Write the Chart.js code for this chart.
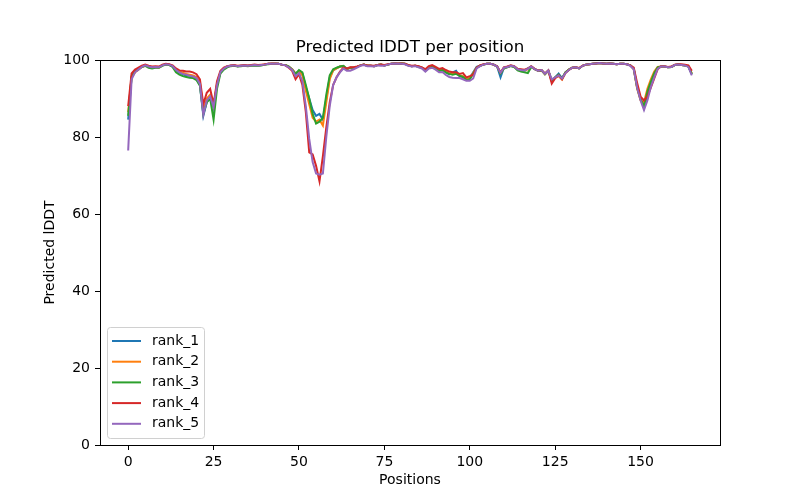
<!DOCTYPE html>
<html>
<head>
<meta charset="utf-8">
<script src="https://cdn.jsdelivr.net/npm/chart.js@4.4.0/dist/chart.umd.min.js"></script>
<style>
  html, body { margin: 0; padding: 0; background: #fff; }
  #wrap { width: 800px; height: 500px; }
</style>
</head>
<body>
<div id="wrap"><canvas id="plddtChart" width="800" height="500"></canvas></div>
<script>
// Series (one value per residue position)
const rank1 = [84.5, 95.5, 97.0, 97.6, 98.3, 98.6, 98.3, 98.0, 98.2, 98.1,
  98.6, 98.9, 98.8, 98.3, 97.2, 96.7, 96.3, 96.0, 95.9, 95.6,
  95.0, 93.5, 85.5, 89.0, 90.5, 87.5, 93.5, 96.8, 97.8, 98.3,
  98.5, 98.6, 98.4, 98.5, 98.6, 98.5, 98.6, 98.7, 98.6, 98.7,
  98.8, 99.0, 99.0, 99.0, 99.0, 98.8, 98.7, 98.3, 97.6, 96.4,
  97.2, 96.5, 93.0, 90.0, 87.0, 85.5, 86.0, 84.5, 90.0, 95.5,
  97.3, 97.9, 98.3, 98.4, 97.6, 98.0, 98.0, 98.2, 98.6, 98.8,
  98.5, 98.5, 98.4, 98.7, 98.8, 98.6, 98.8, 99.0, 99.1, 99.0,
  99.1, 99.0, 98.6, 98.4, 98.5, 98.3, 98.0, 97.3, 98.0, 98.2,
  97.8, 97.2, 97.6, 96.8, 96.3, 96.8, 97.2, 95.8, 95.6, 95.0,
  95.3, 96.8, 98.2, 98.5, 98.8, 99.0, 99.0, 98.8, 98.3, 95.5,
  98.0, 98.2, 98.5, 98.3, 97.6, 97.3, 97.2, 97.8, 98.3, 97.6,
  97.2, 97.4, 96.4, 97.3, 94.5, 95.5, 96.5, 95.3, 96.8, 97.5,
  98.0, 98.1, 97.8, 98.5, 98.8, 98.9, 99.0, 99.1, 99.2, 99.1,
  99.0, 99.1, 99.0, 98.9, 99.0, 99.0, 98.9, 98.6, 97.8, 93.0,
  90.0, 87.5, 91.0, 93.8, 96.2, 98.0, 98.3, 98.3, 98.1, 98.2,
  98.7, 98.8, 98.7, 98.6, 98.3, 96.3];

const rank2 = [86.5, 95.5, 96.8, 97.5, 98.2, 98.5, 98.3, 98.1, 98.2, 98.0,
  98.6, 98.9, 98.8, 98.4, 97.5, 97.0, 96.7, 96.4, 96.2, 96.0,
  95.6, 94.2, 87.0, 90.0, 91.0, 88.0, 93.8, 96.9, 97.8, 98.3,
  98.5, 98.6, 98.4, 98.5, 98.6, 98.5, 98.6, 98.7, 98.6, 98.7,
  98.8, 99.0, 99.0, 99.0, 99.0, 98.8, 98.7, 98.3, 97.6, 96.5,
  97.0, 96.0, 92.0, 88.5, 85.0, 84.0, 84.5, 83.0, 89.0, 95.0,
  97.3, 97.8, 98.3, 98.4, 97.6, 98.0, 98.0, 98.2, 98.6, 98.8,
  98.5, 98.5, 98.4, 98.7, 98.8, 98.6, 98.8, 99.0, 99.1, 99.0,
  99.1, 99.0, 98.6, 98.4, 98.5, 98.3, 98.0, 97.4, 98.0, 98.3,
  97.8, 97.3, 97.5, 96.9, 96.5, 96.5, 96.6, 96.0, 95.8, 95.2,
  95.3, 96.6, 98.0, 98.5, 98.8, 99.0, 99.0, 98.8, 98.3, 96.6,
  98.0, 98.2, 98.5, 98.3, 97.6, 97.4, 97.3, 97.6, 98.3, 97.6,
  97.2, 97.3, 96.3, 97.2, 94.6, 95.4, 95.8, 94.9, 96.7, 97.5,
  98.0, 98.1, 97.8, 98.5, 98.8, 98.9, 99.0, 99.1, 99.2, 99.1,
  99.0, 99.1, 99.0, 98.9, 99.0, 99.0, 98.9, 98.6, 97.6, 92.5,
  89.5, 89.0, 92.5, 95.0, 97.0, 98.2, 98.3, 98.3, 98.1, 98.2,
  98.7, 98.8, 98.7, 98.6, 98.4, 96.5];

const rank3 = [85.5, 95.8, 97.0, 97.6, 98.2, 98.5, 98.0, 97.8, 98.0, 98.0,
  98.5, 98.8, 98.7, 98.2, 96.8, 96.2, 95.8, 95.6, 95.4, 95.3,
  94.8, 93.3, 86.0, 89.0, 90.0, 84.5, 92.5, 96.5, 97.5, 98.1,
  98.4, 98.5, 98.3, 98.4, 98.5, 98.4, 98.5, 98.6, 98.5, 98.6,
  98.8, 98.9, 99.0, 99.0, 99.0, 98.8, 98.7, 98.3, 97.5, 96.4,
  97.4, 96.8, 93.5, 90.0, 86.0, 83.5, 84.0, 85.0, 91.0, 96.0,
  97.6, 98.0, 98.3, 98.5, 97.7, 98.0, 98.0, 98.2, 98.6, 98.8,
  98.5, 98.5, 98.4, 98.7, 98.8, 98.6, 98.8, 99.0, 99.1, 99.0,
  99.1, 99.0, 98.6, 98.4, 98.5, 98.2, 97.9, 97.2, 97.9, 98.2,
  97.7, 97.2, 97.4, 96.8, 96.4, 96.2, 96.4, 95.9, 95.6, 94.8,
  95.0, 96.4, 98.0, 98.5, 98.8, 99.0, 99.0, 98.8, 98.3, 96.5,
  97.8, 98.1, 98.4, 98.2, 97.3, 97.0, 96.8, 96.6, 98.2, 97.6,
  97.2, 97.3, 96.3, 97.2, 94.6, 95.5, 96.2, 95.2, 96.8, 97.5,
  98.0, 98.1, 97.8, 98.5, 98.8, 98.9, 99.0, 99.1, 99.2, 99.1,
  99.0, 99.1, 99.0, 98.9, 99.0, 99.0, 98.9, 98.6, 97.7, 92.8,
  89.8, 88.0, 91.8, 94.3, 96.6, 98.1, 98.3, 98.3, 98.1, 98.2,
  98.7, 98.8, 98.7, 98.6, 98.3, 96.4];

const rank4 = [88.0, 96.5, 97.5, 98.0, 98.5, 98.8, 98.5, 98.3, 98.4, 98.3,
  98.8, 99.0, 98.9, 98.6, 97.8, 97.3, 97.2, 97.0, 97.0, 96.8,
  96.3, 95.0, 88.5, 91.5, 92.5, 88.5, 94.5, 97.2, 98.0, 98.4,
  98.6, 98.7, 98.5, 98.6, 98.7, 98.6, 98.7, 98.8, 98.7, 98.8,
  98.9, 99.0, 99.1, 99.1, 99.0, 98.8, 98.6, 98.0, 97.2, 95.0,
  96.3, 93.5, 86.5, 76.0, 75.5, 72.5, 68.5, 75.0, 82.5, 89.0,
  93.5, 95.5, 97.0, 98.0, 97.8, 98.1, 98.1, 98.3, 98.6, 98.8,
  98.6, 98.6, 98.5, 98.7, 98.8, 98.7, 98.9, 99.0, 99.1, 99.1,
  99.1, 99.0, 98.7, 98.5, 98.6, 98.4, 98.1, 97.6, 98.4, 98.7,
  98.2, 97.7, 97.9, 97.4, 97.0, 96.8, 96.8, 96.4, 96.6, 95.5,
  95.8, 96.2, 98.0, 98.6, 98.9, 99.0, 99.0, 98.8, 98.4, 96.8,
  98.1, 98.3, 98.6, 98.4, 97.7, 97.6, 97.5, 97.8, 98.4, 97.7,
  97.3, 97.4, 96.5, 97.3, 93.9, 95.3, 96.0, 95.0, 96.6, 97.4,
  98.0, 98.1, 97.9, 98.5, 98.8, 98.9, 99.0, 99.1, 99.2, 99.1,
  99.0, 99.1, 99.0, 98.9, 99.0, 99.0, 98.9, 98.6, 98.0, 94.0,
  90.5, 89.5, 90.5, 92.8, 95.2, 97.6, 98.4, 98.4, 98.2, 98.3,
  98.8, 98.9, 98.9, 98.8, 98.6, 97.2];

const rank5 = [76.5, 95.0, 96.8, 97.5, 98.2, 98.6, 98.3, 98.1, 98.2, 98.1,
  98.6, 98.9, 98.8, 98.4, 97.4, 96.8, 96.4, 96.2, 95.9, 95.7,
  95.3, 93.8, 85.8, 89.5, 90.5, 87.8, 93.5, 96.9, 97.8, 98.3,
  98.5, 98.6, 98.4, 98.5, 98.6, 98.5, 98.6, 98.7, 98.6, 98.7,
  98.8, 99.0, 99.0, 99.0, 99.0, 98.8, 98.6, 98.1, 97.4, 95.8,
  96.6, 94.5, 88.0, 79.5, 73.5, 70.5, 70.2, 70.5, 80.0, 88.0,
  93.5, 95.5, 96.8, 97.8, 97.2, 97.2, 97.6, 98.0, 98.5, 98.7,
  98.4, 98.4, 98.3, 98.6, 98.5, 98.5, 98.8, 99.0, 99.1, 99.0,
  99.0, 98.9, 98.5, 98.3, 98.4, 98.1, 97.8, 97.0, 97.8, 98.0,
  97.5, 96.8, 96.9, 96.1, 95.6, 95.4, 95.3, 95.3, 95.0, 94.6,
  94.6, 95.2, 97.8, 98.4, 98.8, 99.0, 99.0, 98.8, 98.3, 96.7,
  98.0, 98.2, 98.5, 98.3, 97.6, 97.4, 97.3, 97.7, 98.3, 97.6,
  97.2, 97.4, 96.4, 97.2, 95.0, 95.5, 96.0, 95.2, 96.6, 97.4,
  98.0, 98.1, 97.8, 98.5, 98.8, 98.9, 99.0, 99.1, 99.2, 99.1,
  99.0, 99.1, 99.0, 98.9, 99.0, 99.0, 98.9, 98.5, 97.6, 92.8,
  89.5, 87.0, 89.5, 93.0, 95.5, 97.7, 98.3, 98.3, 98.1, 98.2,
  98.7, 98.8, 98.7, 98.6, 98.2, 96.0];

const seriesNames = ['rank_1', 'rank_2', 'rank_3', 'rank_4', 'rank_5'];
const seriesValues = [rank1, rank2, rank3, rank4, rank5];
const seriesColors = ['#1f77b4', '#ff7f0e', '#2ca02c', '#d62728', '#9467bd'];
const xTicks = [0, 25, 50, 75, 100, 125, 150];
const yTicks = [0, 20, 40, 60, 80, 100];
const chartTitle = 'Predicted lDDT per position';

const positions = rank1.map((_, i) => i);
const lastPos = positions[positions.length - 1];
const xMargin = lastPos * 0.05;

// axes frame (matplotlib style box around the plot) + title centred on the axes
const frameBox = {
    id: 'frameBox',
    afterDraw(chart) {
        const {ctx, chartArea: a} = chart;
        ctx.save();
        ctx.strokeStyle = '#000';
        ctx.lineWidth = 1;
        ctx.strokeRect(Math.round(a.left) + 0.5, Math.round(a.top) + 0.5,
            Math.round(a.right - a.left), Math.round(a.bottom - a.top));
        ctx.font = '16.7px "DejaVu Sans"';
        ctx.fillStyle = '#000';
        ctx.textAlign = 'center';
        ctx.textBaseline = 'alphabetic';
        ctx.fillText(chartTitle, (a.left + a.right) / 2, a.top - 8);
        ctx.restore();
    }
};

// legend drawn inside the plot, lower left
const insideLegend = {
    id: 'insideLegend',
    afterDraw(chart) {
        const {ctx, chartArea: a} = chart;
        const sets = chart.data.datasets;
        const rowH = 20.7;
        const w = 97, h = 111;
        const x0 = a.left + 7, y0 = a.bottom - 7 - h;
        ctx.save();
        ctx.beginPath();
        ctx.roundRect(x0 + 0.5, y0 + 0.5, w, h, 3);
        ctx.fillStyle = 'rgba(255,255,255,0.8)';
        ctx.fill();
        ctx.strokeStyle = '#d0d0d0';
        ctx.lineWidth = 1;
        ctx.stroke();
        ctx.font = '14px "DejaVu Sans"';
        ctx.textBaseline = 'middle';
        ctx.fillStyle = '#000';
        sets.forEach((ds, i) => {
            const y = y0 + 14 + i * rowH;
            ctx.beginPath();
            ctx.moveTo(x0 + 5, y);
            ctx.lineTo(x0 + 34, y);
            ctx.strokeStyle = ds.borderColor;
            ctx.lineWidth = 2;
            ctx.stroke();
            ctx.fillText(ds.label, x0 + 45, y);
        });
        ctx.restore();
    }
};

function initializeChart() {
    const canvas = document.getElementById('plddtChart');
    Chart.defaults.font.family = '"DejaVu Sans", sans-serif';
    Chart.defaults.font.size = 14;
    Chart.defaults.color = '#000';

    const datasets = seriesNames.map((name, i) => ({
        label: name,
        data: positions.map((p, j) => ({x: p, y: seriesValues[i][j]})),
        borderColor: seriesColors[i],
        backgroundColor: seriesColors[i],
        borderWidth: 2,
        pointRadius: 0,
        tension: 0,
        fill: false,
        order: seriesNames.length - i
    }));

    new Chart(canvas, {
        type: 'line',
        data: {datasets},
        plugins: [frameBox, insideLegend],
        options: {
            responsive: false,
            animation: false,
            devicePixelRatio: 1,
            layout: {padding: {left: 0, right: 80, top: 60, bottom: 0}},
            plugins: {
                legend: {display: false},
                tooltip: {enabled: false},
                title: {display: false}
            },
            scales: {
                x: {
                    type: 'linear',
                    min: -xMargin,
                    max: lastPos + xMargin,
                    afterBuildTicks: s => { s.ticks = xTicks.map(v => ({value: v})); },
                    afterFit: s => { s.height = 55; },
                    ticks: {padding: 4, maxRotation: 0, autoSkip: false},
                    grid: {drawOnChartArea: false, tickLength: 5, color: '#000', lineWidth: 1},
                    border: {color: '#000', width: 1},
                    title: {display: true, text: 'Positions', padding: {top: 0, bottom: 11.6}}
                },
                y: {
                    type: 'linear',
                    min: 0,
                    max: 100,
                    afterBuildTicks: s => { s.ticks = yTicks.map(v => ({value: v})); },
                    afterFit: s => { s.width = 100; },
                    ticks: {padding: 5},
                    grid: {drawOnChartArea: false, tickLength: 5, color: '#000', lineWidth: 1},
                    border: {color: '#000', width: 1},
                    title: {display: true, text: 'Predicted lDDT', padding: {top: 41.6, bottom: 0}}
                }
            }
        }
    });
}

document.addEventListener('DOMContentLoaded', initializeChart);
</script>
</body>
</html>
